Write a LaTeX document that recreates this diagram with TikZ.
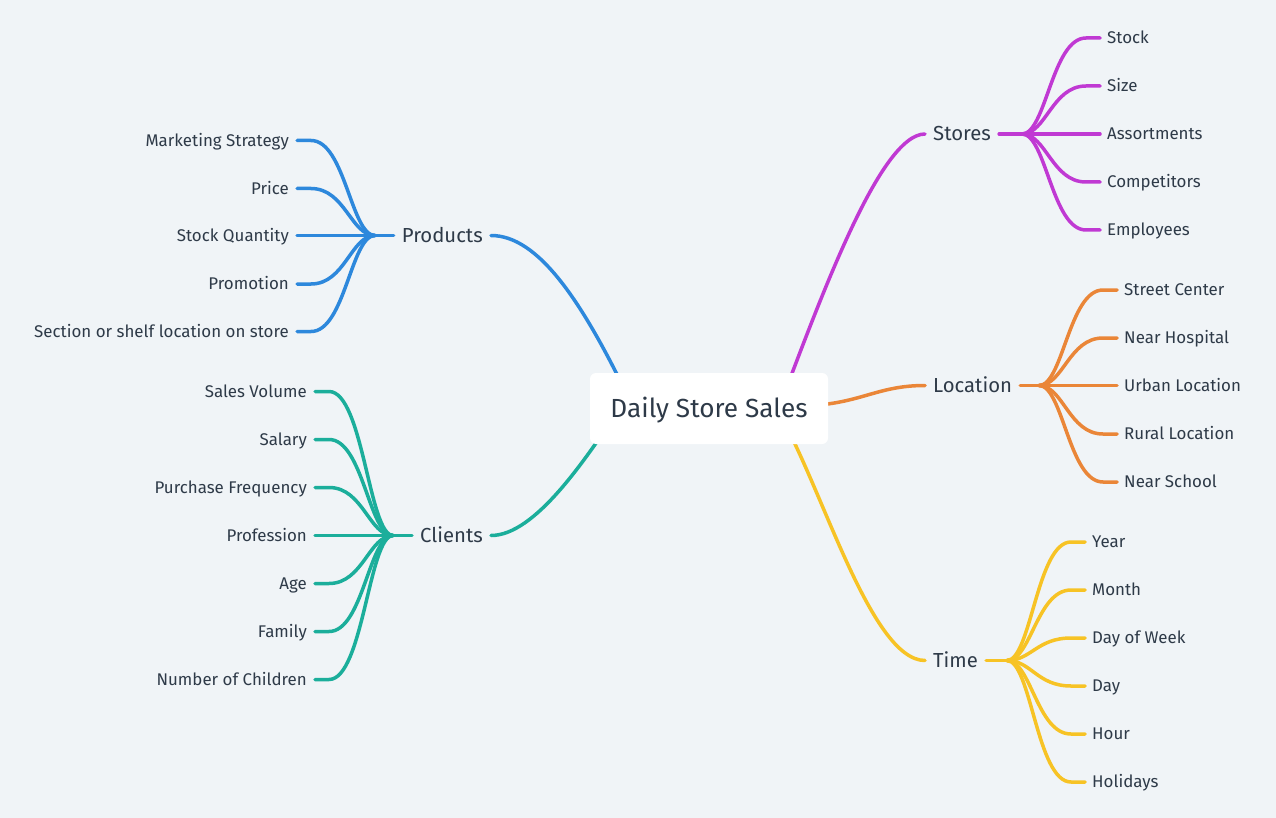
\documentclass[tikz,border=0pt]{standalone}
\usepackage{fontspec}
\setmainfont{Fira Sans}
\usetikzlibrary{calc}
\definecolor{bgc}{HTML}{F0F4F7}
\definecolor{textc}{HTML}{2E3A48}
\definecolor{cstore}{HTML}{C039D3}
\definecolor{cloc}{HTML}{EA8638}
\definecolor{ctime}{HTML}{F7C325}
\definecolor{cprod}{HTML}{2D88DC}
\definecolor{cclient}{HTML}{1BAE9B}
\tikzset{
  leafr/.style={anchor=west,inner xsep=7pt,inner ysep=0pt,font=\fontsize{16.9}{19}\selectfont,text=textc,text height=11.6pt,text depth=0pt},
  leafl/.style={anchor=east,inner xsep=8pt,inner ysep=0pt,font=\fontsize{16.9}{19}\selectfont,text=textc,text height=11.6pt,text depth=0pt},
  mainr/.style={anchor=west,inner xsep=8pt,inner ysep=0pt,font=\fontsize{20.3}{24}\selectfont,text=textc,text height=14pt,text depth=0pt},
  mainl/.style={anchor=east,inner xsep=8pt,inner ysep=0pt,font=\fontsize{20.3}{24}\selectfont,text=textc,text height=14pt,text depth=0pt},
  rootbox/.style={fill=white,rounded corners=6pt,minimum width=238pt,minimum height=71pt,inner sep=0pt,font=\fontsize{26.2}{30}\selectfont,text=textc,text height=18pt,text depth=0pt},
  branch/.style={line width=3.5pt,line cap=round},
}
\begin{document}
\begin{tikzpicture}[x=1pt,y=-1pt]
\fill[bgc] (0,0) rectangle (1276,818);
\useasboundingbox (0,0) rectangle (1276,818);

% main nodes
\node[mainr] (stores) at (925,134) {Stores};
\node[mainr] (loc) at (925,385.5) {Location};
\node[mainr] (time) at (925,660.5) {Time};
\node[mainl] (prod) at (491,235.5) {Products};
\node[mainl] (cli) at (491,535.5) {Clients};

% root connectors
\coordinate (rs) at (780,405);
\coordinate (rl) at (800,406);
\coordinate (rt) at (778,412);
\coordinate (rp) at (632,405);
\coordinate (rc) at (622,405);
\draw[branch,cstore] (stores.west) .. controls (880,134) and (820,300) .. (rs);
\draw[branch,cloc] (loc.west) .. controls (875,385.5) and (860,405) .. (rl);
\draw[branch,ctime] (time.west) .. controls (870,660.5) and (820,480) .. (rt);
\draw[branch,cprod] (prod.east) .. controls (538,235.5) and (582,300) .. (rp);
\draw[branch,cclient] (cli.east) .. controls (535,535.5) and (585,460) .. (rc);

\node[rootbox] (root) at (709,408.5) {Daily Store Sales};

% fan origins
\coordinate (fs) at (1022,134);
\coordinate (fl) at (1039,385.5);
\coordinate (ft) at (1007,660.5);
\coordinate (fp) at (375,235.5);
\coordinate (fc) at (393,535.5);

\draw[branch,cstore] (stores.east) -- (fs);
\draw[branch,cloc] (loc.east) -- (fl);
\draw[branch,ctime] (time.east) -- (ft);
\draw[branch,cprod] (prod.west) -- (fp);
\draw[branch,cclient] (cli.west) -- (fc);

% leaves: stores
\foreach \n/\y/\t in {s1/38/Stock,s2/86/Size,s3/134/Assortments,s4/182/Competitors,s5/230/Employees}{
  \node[leafr] (\n) at (1100,\y) {\t};
  \draw[branch,cstore] (fs) .. controls +(24,0) and +(-34,0) .. ([xshift=-14pt]\n.west) -- (\n.west);
}
% leaves: location
\foreach \n/\y/\t in {l1/290/Street Center,l2/338/Near Hospital,l3/385.5/Urban Location,l4/434/Rural Location,l5/482/Near School}{
  \node[leafr] (\n) at (1117,\y) {\t};
  \draw[branch,cloc] (fl) .. controls +(24,0) and +(-34,0) .. ([xshift=-14pt]\n.west) -- (\n.west);
}
% leaves: time
\foreach \n/\y/\t in {t1/542/Year,t2/590/Month,t3/638/Day of Week,t4/686/Day,t5/734/Hour,t6/782/Holidays}{
  \node[leafr] (\n) at (1085,\y) {\t};
  \draw[branch,ctime] (ft) .. controls +(24,0) and +(-34,0) .. ([xshift=-14pt]\n.west) -- (\n.west);
}
% leaves: products
\foreach \n/\y/\t in {p1/140.5/Marketing Strategy,p2/188.5/Price,p3/235.5/Stock Quantity,p4/284/Promotion,p5/331.5/Section or shelf location on store}{
  \node[leafl] (\n) at (297,\y) {\t};
  \draw[branch,cprod] (fp) .. controls +(-24,0) and +(34,0) .. ([xshift=14pt]\n.east) -- (\n.east);
}
% leaves: clients
\foreach \n/\y/\t in {c1/391.5/Sales Volume,c2/439.5/Salary,c3/487.5/Purchase Frequency,c4/535.5/Profession,c5/583.5/Age,c6/631.5/Family,c7/679.5/Number of Children}{
  \node[leafl] (\n) at (315,\y) {\t};
  \draw[branch,cclient] (fc) .. controls +(-24,0) and +(34,0) .. ([xshift=14pt]\n.east) -- (\n.east);
}
\end{tikzpicture}
\end{document}
